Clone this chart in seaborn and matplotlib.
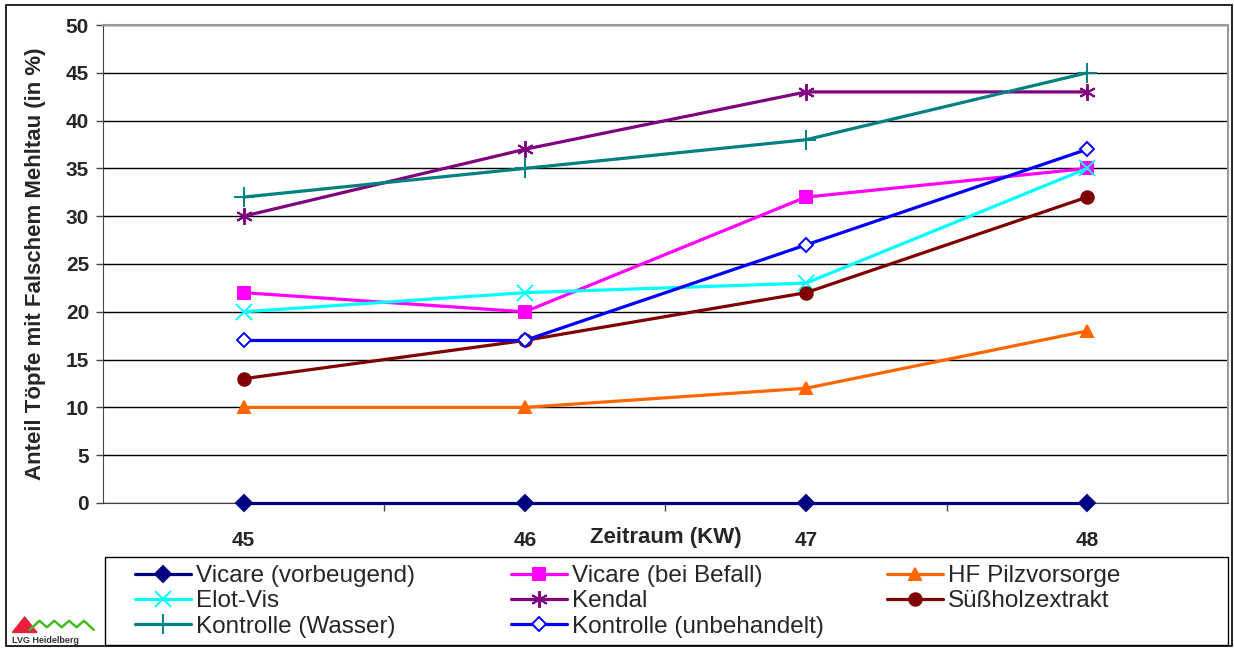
import matplotlib
matplotlib.use("Agg")
import matplotlib.pyplot as plt
import seaborn as sns
from matplotlib.patches import Rectangle, Polygon
from matplotlib.lines import Line2D

# === Data ===
weeks = [45, 46, 47, 48]
vicare_vorbeugend = [0, 0, 0, 0]
vicare_befall = [22, 20, 32, 35]
hf_pilzvorsorge = [10, 10, 12, 18]
elot_vis = [20, 22, 23, 35]
kendal = [30, 37, 43, 43]
suessholz = [13, 17, 22, 32]
kontrolle_wasser = [32, 35, 38, 45]
kontrolle_unbehandelt = [17, 17, 27, 37]

# name, values, colour, marker, face colour, marker size
series = [
    ("Vicare (vorbeugend)", vicare_vorbeugend, "#000080", "D", "#000080", 8),
    ("Vicare (bei Befall)", vicare_befall, "#FF00FF", "s", "#FF00FF", 8.5),
    ("HF Pilzvorsorge", hf_pilzvorsorge, "#FF6600", "^", "#FF6600", 9),
    ("Elot-Vis", elot_vis, "#00FFFF", "x", "#00FFFF", 11),
    ("Kendal", kendal, "#800080", (6, 2, 0), "#800080", 12),
    ("Süßholzextrakt", suessholz, "#800000", "o", "#800000", 9),
    ("Kontrolle (Wasser)", kontrolle_wasser, "#008080", "+", "#008080", 14),
    ("Kontrolle (unbehandelt)", kontrolle_unbehandelt, "#0000FF", "D", "white", 7.5),
]

sns.set_style("white")
plt.rcParams["font.family"] = ["Liberation Sans", "DejaVu Sans"]

fig = plt.figure(figsize=(12.34, 6.48), dpi=100)
ax = fig.add_axes([0.0835, 0.2238, 0.9115, 0.7376])

handles = {}
for name, vals, col, mk, face, ms in series:
    sns.lineplot(x=weeks, y=vals, ax=ax, color=col, marker=mk, markersize=ms,
                 markerfacecolor=face, markeredgecolor=col, markeredgewidth=1.4,
                 linewidth=2.3, label=name, clip_on=False, zorder=3)
    handles[name] = ax.get_lines()[-1]

ax.set_xlim(44.5, 48.5)
ax.set_ylim(0, 50)
ax.set_yticks(range(0, 51, 5))
ax.set_xticks(weeks)
ax.set_xticks([45.5, 46.5, 47.5], minor=True)
ax.grid(axis="y", color="black", linewidth=1)
ax.grid(axis="x", visible=False)
ax.set_axisbelow(True)

ax.tick_params(axis="x", which="major", length=0, pad=20, labelsize=15)
ax.tick_params(axis="x", which="minor", length=6, width=1, color="#444444", direction="out")
ax.tick_params(axis="y", length=5, width=1, color="#444444", direction="out", pad=5, labelsize=15)
for lbl in ax.get_xticklabels() + ax.get_yticklabels():
    lbl.set_fontweight("bold")
ax.xaxis.set_ticks_position("bottom")
ax.yaxis.set_ticks_position("left")

for side in ["top", "right"]:
    ax.spines[side].set_color("#999999")
    ax.spines[side].set_linewidth(1.5)
ax.spines["left"].set_color("#444444")
ax.spines["bottom"].set_color("#444444")

ax.set_xlabel("Zeitraum (KW)", fontsize=16, fontweight="bold")
ax.xaxis.set_label_coords(0.5, -0.05)
ax.set_ylabel("Anteil Töpfe mit Falschem Mehltau (in %)", fontsize=16, fontweight="bold")
ax.yaxis.set_label_coords(-0.051, 0.5)

# legend: three columns placed like the original, one frame round them
ax.get_legend().remove()
columns = [
    (0.1094, ["Vicare (vorbeugend)", "Elot-Vis", "Kontrolle (Wasser)"]),
    (0.4141, ["Vicare (bei Befall)", "Kendal", "Kontrolle (unbehandelt)"]),
    (0.7188, ["HF Pilzvorsorge", "Süßholzextrakt"]),
]
for x0, names in columns:
    leg = fig.legend([handles[n] for n in names], names, loc="upper left",
                     bbox_to_anchor=(x0, 0.128), fontsize=17.5, frameon=False,
                     handlelength=2.3, handletextpad=0.2, labelspacing=0.14,
                     borderpad=0, borderaxespad=0)
fig.add_artist(Rectangle((0.0851, 0.005), 0.9100, 0.1355, transform=fig.transFigure,
                         fill=False, edgecolor="black", linewidth=1))

# outer chart border
fig.add_artist(Rectangle((0.005, 0.003), 0.993, 0.989, transform=fig.transFigure,
                         fill=False, edgecolor="black", linewidth=1.2))

# small logo
fig.add_artist(Polygon([(0.010, 0.024), (0.020, 0.048), (0.030, 0.024)], closed=True,
                       transform=fig.transFigure, color="#E8203A"))
zig_x = [0.024, 0.032, 0.038, 0.044, 0.050, 0.056, 0.062, 0.068, 0.076]
zig_y = [0.028, 0.042, 0.032, 0.042, 0.032, 0.042, 0.032, 0.042, 0.028]
fig.add_artist(Line2D(zig_x, zig_y, transform=fig.transFigure,
                      color="#44BB22", linewidth=1.8))
fig.text(0.010, 0.007, "LVG Heidelberg", fontsize=6.5, fontweight="bold", color="#333333")

plt.savefig("out.png", dpi=100)
